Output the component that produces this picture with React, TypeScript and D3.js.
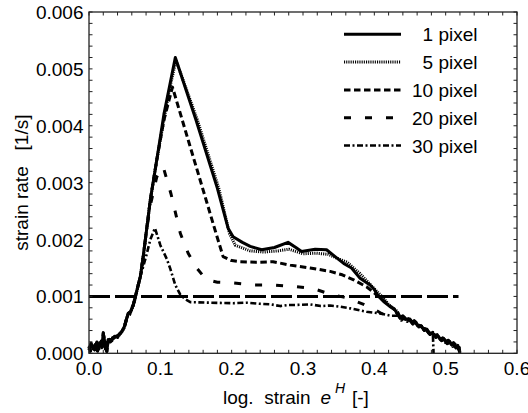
import React from "react";
import * as d3 from "d3";

type P = [number, number];

const xTicks = [0, 0.1, 0.2, 0.3, 0.4, 0.5, 0.6];
const yTicks = [0, 0.001, 0.002, 0.003, 0.004, 0.005, 0.006];
const seriesNames = ["1 pixel", "5 pixel", "10 pixel", "20 pixel", "30 pixel"];
const referenceRate = 0.001;
const referenceEnd = 0.518;

const startSeg: P[] = [
  [0.0, 0.00006], [0.003, 0.00018], [0.006, 0.00008], [0.009, 0.00016], [0.012, 0.00004],
  [0.015, 0.00018], [0.018, 0.0001], [0.02, 0.00036], [0.022, 0.00015], [0.025, 0.00003],
  [0.027, 0.00024], [0.03, 0.0002], [0.033, 0.00027], [0.037, 0.00029], [0.041, 0.00032],
  [0.046, 0.00038], [0.05, 0.00048], [0.053, 0.00062], [0.055, 0.0007], [0.058, 0.00073],
  [0.062, 0.00085], [0.065, 0.001], [0.069, 0.0012], [0.072, 0.00135],
];

const startSegB: P[] = [
  [0.0, 0.00012], [0.002, 0.00004], [0.005, 0.00014], [0.008, 0.00006], [0.011, 0.0002],
  [0.014, 0.00008], [0.017, 0.00022], [0.019, 0.00012], [0.021, 0.0003], [0.023, 0.00008],
  [0.026, 0.0002], [0.029, 0.00025], [0.032, 0.00022], [0.036, 0.0003], [0.04, 0.00028],
  [0.045, 0.00036], [0.049, 0.00044], [0.052, 0.00058], [0.054, 0.00066], [0.057, 0.00068],
  [0.061, 0.0008], [0.065, 0.00098], [0.069, 0.0012], [0.072, 0.00135],
];

const tailSeg: P[] = [
  [0.432, 0.0007], [0.436, 0.00062], [0.44, 0.00066], [0.444, 0.0006], [0.448, 0.00061],
  [0.452, 0.00055], [0.456, 0.00057], [0.46, 0.0005], [0.464, 0.00049], [0.468, 0.00044],
  [0.472, 0.00043], [0.476, 0.00036], [0.48, 0.00035], [0.484, 0.00031], [0.488, 0.00033],
  [0.492, 0.00025], [0.496, 0.00027], [0.5, 0.00021], [0.504, 0.00023], [0.508, 0.00015],
  [0.511, 0.00019], [0.514, 0.0001], [0.517, 0.00014], [0.52, 0.0],
];

const tailSegB: P[] = [
  [0.432, 0.00074], [0.435, 0.00066], [0.438, 0.00058], [0.442, 0.00063], [0.446, 0.00056],
  [0.45, 0.0006], [0.454, 0.00051], [0.458, 0.00055], [0.462, 0.00046], [0.466, 0.00048],
  [0.47, 0.0004], [0.474, 0.00042], [0.478, 0.00033], [0.482, 0.00037], [0.486, 0.00028],
  [0.49, 0.0003], [0.494, 0.00022], [0.498, 0.00025], [0.502, 0.00017], [0.506, 0.0002],
  [0.51, 0.00012], [0.513, 0.00016], [0.516, 0.00006], [0.519, 0.0001], [0.52, 0.0],
];

const px1Mid: P[] = [
  [0.076, 0.0017], [0.08, 0.0021], [0.086, 0.0027], [0.095, 0.0034], [0.105, 0.0042],
  [0.113, 0.0047], [0.121, 0.0052], [0.15, 0.0041], [0.18, 0.0029], [0.195, 0.0022],
  [0.202, 0.00205], [0.215, 0.00195], [0.226, 0.00188], [0.242, 0.00182], [0.26, 0.00186],
  [0.279, 0.00195], [0.29, 0.00186], [0.298, 0.00179], [0.317, 0.00183], [0.333, 0.00182],
  [0.345, 0.0017], [0.357, 0.00158], [0.368, 0.0015], [0.38, 0.00132], [0.394, 0.0012],
  [0.4, 0.00112], [0.406, 0.001], [0.414, 0.0009], [0.422, 0.00082], [0.428, 0.00078],
];

const px5Mid: P[] = [
  [0.076, 0.0017], [0.08, 0.0021], [0.086, 0.0027], [0.095, 0.0034], [0.105, 0.0041],
  [0.113, 0.00465], [0.122, 0.00515], [0.152, 0.0041], [0.182, 0.0029], [0.197, 0.0021],
  [0.205, 0.0019], [0.226, 0.0018], [0.245, 0.00178], [0.265, 0.0018], [0.28, 0.00183],
  [0.3, 0.00175], [0.318, 0.00176], [0.335, 0.00174], [0.35, 0.00166], [0.362, 0.0016],
  [0.38, 0.0014], [0.395, 0.0012], [0.405, 0.00107], [0.412, 0.00098], [0.42, 0.00086],
  [0.428, 0.00077],
];

const px10Mid: P[] = [
  [0.076, 0.0017], [0.08, 0.0021], [0.086, 0.0027], [0.095, 0.0034], [0.105, 0.0041],
  [0.117, 0.00468], [0.14, 0.00371], [0.165, 0.00266], [0.179, 0.00207], [0.188, 0.0017],
  [0.2, 0.00163], [0.212, 0.00161], [0.235, 0.0016], [0.258, 0.00161], [0.282, 0.00155],
  [0.31, 0.0015], [0.338, 0.00144], [0.355, 0.00138], [0.371, 0.00129], [0.389, 0.00117],
  [0.403, 0.00103], [0.412, 0.00094], [0.42, 0.00085], [0.428, 0.00077],
];

const px20Mid: P[] = [
  [0.076, 0.0017], [0.08, 0.0021], [0.086, 0.0026], [0.095, 0.0031], [0.104, 0.00328],
  [0.115, 0.0028], [0.128, 0.00211], [0.139, 0.00176], [0.151, 0.0015], [0.164, 0.0013],
  [0.18, 0.00125], [0.2, 0.00124], [0.23, 0.0012], [0.26, 0.0012], [0.29, 0.00117],
  [0.314, 0.00114], [0.338, 0.00104], [0.363, 0.00097], [0.385, 0.00086], [0.399, 0.00078],
  [0.41, 0.0007], [0.428, 0.00065],
];
const px20End: P[] = [[0.501, 0.0]];

const px30Mid: P[] = [
  [0.08, 0.0017], [0.086, 0.002], [0.0925, 0.0022], [0.1, 0.0019], [0.109, 0.00166],
  [0.1136, 0.0015], [0.121, 0.0012], [0.128, 0.00103], [0.135, 0.00095], [0.142, 0.0009],
  [0.17, 0.00089], [0.202, 0.00088], [0.22, 0.00089], [0.24, 0.00087], [0.255, 0.00086],
  [0.268, 0.00083], [0.28, 0.00085], [0.291, 0.00085], [0.31, 0.00086], [0.325, 0.00083],
  [0.338, 0.00084], [0.352, 0.00082], [0.366, 0.00079], [0.389, 0.00073], [0.408, 0.0007],
  [0.423, 0.00066],
];
const px30End: P[] = [[0.483, 0.0]];

const series1 = [...startSeg, ...px1Mid, ...tailSeg];
const series5 = [...startSegB, ...px5Mid, ...tailSegB];
const series10 = [...startSeg, ...px10Mid, ...tailSegB];
const series20 = [...startSegB, ...px20Mid, ...tailSeg.filter((d) => d[0] <= 0.5), ...px20End];
const series30 = [...startSegB, ...px30Mid, ...tailSegB.filter((d) => d[0] >= 0.435 && d[0] <= 0.482), ...px30End];

const W = 528;
const H = 413;
const L = 89;
const R = 517;
const T = 12;
const B = 353.3;
const FONT = "'Liberation Sans', Arial, Helvetica, sans-serif";

const styles = [
  { dash: "none", width: 3 },
  { dash: "1.1,1.1", width: 3 },
  { dash: "6.5,3.5", width: 3 },
  { dash: "7,14", width: 3 },
  { dash: "6,2.5,2,2.5", width: 2.6 },
];

export default function App() {
  const x = d3.scaleLinear().domain([0, 0.6]).range([L, R]);
  const y = d3.scaleLinear().domain([0, 0.006]).range([B, T]);
  const line = d3
    .line<P>()
    .x((d) => x(d[0]))
    .y((d) => y(d[1]));
  const data = [series1, series5, series10, series20, series30];

  const xMinor = d3.range(0, 0.6001, 0.02);
  const yMinor = d3.range(0, 0.00601, 0.0002);
  const tl = 3.5;

  const legendX0 = 344;
  const legendX1 = 401;
  const legendY0 = 34.3;
  const legendDy = 27.8;
  const legendTextX = 477.5;

  return (
    <div style={{ position: "absolute", left: 0, top: 0, background: "#fff" }}>
      <svg width={W} height={H} style={{ display: "block", background: "#fff" }} fontFamily={FONT}>
        <rect x={0} y={0} width={W} height={H} fill="#fff" />
        <line
          x1={x(0)}
          x2={x(referenceEnd)}
          y1={y(referenceRate)}
          y2={y(referenceRate)}
          stroke="#000"
          strokeWidth={3}
          strokeDasharray="21,5"
        />
        {data
          .map((d, i) => ({ d, i }))
          .reverse()
          .map(({ d, i }) => (
            <path
              key={i}
              d={line(d) || ""}
              fill="none"
              stroke="#000"
              strokeWidth={styles[i].width}
              strokeDasharray={styles[i].dash}
              strokeLinejoin="round"
            />
          ))}
        <rect x={L} y={T} width={R - L} height={B - T} fill="none" stroke="#222" strokeWidth={1.3} />
        {xMinor.map((v, i) => (
          <g key={"xm" + i}>
            <line x1={x(v)} x2={x(v)} y1={B} y2={B - tl} stroke="#222" strokeWidth={1} />
            <line x1={x(v)} x2={x(v)} y1={T} y2={T + tl} stroke="#222" strokeWidth={1} />
          </g>
        ))}
        {yMinor.map((v, i) => (
          <g key={"ym" + i}>
            <line x1={L} x2={L + tl} y1={y(v)} y2={y(v)} stroke="#222" strokeWidth={1} />
            <line x1={R} x2={R - tl} y1={y(v)} y2={y(v)} stroke="#222" strokeWidth={1} />
          </g>
        ))}
        {xTicks.map((v, i) => (
          <text key={"xt" + i} x={x(v)} y={375} fontSize={19} textAnchor="middle" fill="#000">
            {v.toFixed(1)}
          </text>
        ))}
        {yTicks.map((v, i) => (
          <text key={"yt" + i} x={83.5} y={y(v) + 7} fontSize={19} textAnchor="end" fill="#000">
            {v.toFixed(3)}
          </text>
        ))}
        <text
          transform={`translate(28,${(T + B) / 2}) rotate(-90)`}
          fontSize={19}
          textAnchor="middle"
          fill="#000"
          style={{ whiteSpace: "pre" }}
        >
          {"strain rate   [1/s]"}
        </text>
        <text x={223} y={404} fontSize={19} fill="#000" style={{ whiteSpace: "pre" }}>
          {"log.  strain"}
        </text>
        <text x={320.5} y={404} fontSize={19} fontStyle="italic" fill="#000">
          e
        </text>
        <text x={335} y={393} fontSize={14} fontStyle="italic" fill="#000">
          H
        </text>
        <text x={352} y={404} fontSize={19} fill="#000">
          [-]
        </text>
        {seriesNames.map((name, i) => {
          const ly = legendY0 + i * legendDy;
          return (
            <g key={"lg" + i}>
              <line
                x1={legendX0}
                x2={legendX1}
                y1={ly}
                y2={ly}
                stroke="#000"
                strokeWidth={styles[i].width}
                strokeDasharray={styles[i].dash}
              />
              <text x={legendTextX} y={ly + 7} fontSize={19} textAnchor="end" fill="#000">
                {name}
              </text>
            </g>
          );
        })}
      </svg>
    </div>
  );
}
